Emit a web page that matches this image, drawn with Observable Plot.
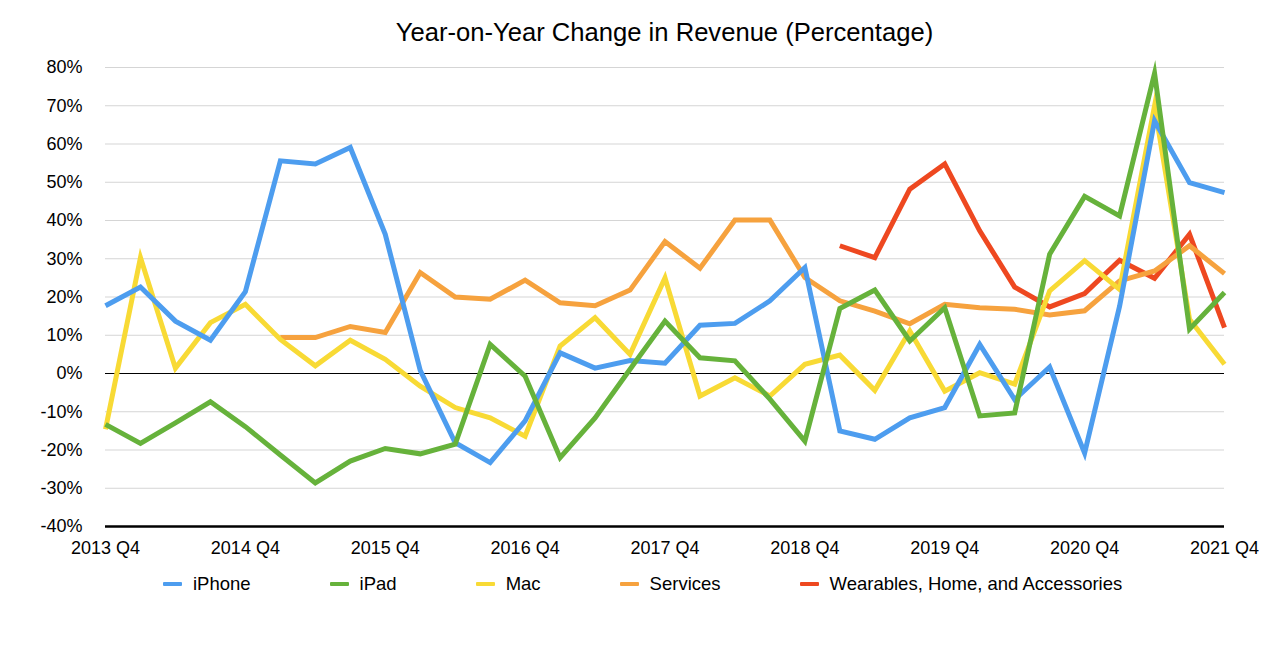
<!DOCTYPE html>
<html>
<head>
<meta charset="utf-8">
<script src="https://cdn.jsdelivr.net/npm/d3@7"></script>
<script src="https://cdn.jsdelivr.net/npm/@observablehq/plot@0.6"></script>
<style>
  html, body { margin: 0; padding: 0; background: #fff; }
  #wrap { position: relative; width: 1280px; height: 655px; font-family: "Liberation Sans", Arial, Helvetica, sans-serif; color: #000; }
  #title { position: absolute; left: 105px; width: 1119px; top: 18px; text-align: center; font-size: 25.6px; line-height: 28px; }
  #chart { position: absolute; left: 0; top: 50px; }
  #legend { position: absolute; left: 163px; top: 573px; display: flex; align-items: center; font-size: 18.5px; line-height: 22px; }
  .item { display: flex; align-items: center; margin-right: 79px; }
  .sw { width: 19px; height: 4px; margin-right: 11px; border-radius: 1px; }
</style>
</head>
<body>
<div id="wrap">
  <div id="title">Year-on-Year Change in Revenue (Percentage)</div>
  <div id="chart"></div>
  <div id="legend"></div>
</div>
<script>
const quarters = ["2013 Q4","2014 Q1","2014 Q2","2014 Q3","2014 Q4","2015 Q1","2015 Q2","2015 Q3","2015 Q4",
  "2016 Q1","2016 Q2","2016 Q3","2016 Q4","2017 Q1","2017 Q2","2017 Q3","2017 Q4",
  "2018 Q1","2018 Q2","2018 Q3","2018 Q4","2019 Q1","2019 Q2","2019 Q3","2019 Q4",
  "2020 Q1","2020 Q2","2020 Q3","2020 Q4","2021 Q1","2021 Q2","2021 Q3","2021 Q4"];
const xTicks = ["2013 Q4","2014 Q4","2015 Q4","2016 Q4","2017 Q4","2018 Q4","2019 Q4","2020 Q4","2021 Q4"];
const yTicks = [-40,-30,-20,-10,0,10,20,30,40,50,60,70,80];

const iPhone = [17.7,22.6,13.7,8.7,21.4,55.6,54.8,59.1,36.4,0.8,-18.1,-23.3,-12.4,5.4,1.4,3.4,2.7,12.6,13.1,19.0,27.7,-15.0,-17.2,-11.6,-8.9,7.6,-6.8,1.7,-20.8,17.6,66.1,49.9,47.3];
const iPad = [-13.3,-18.3,-12.9,-7.4,-13.9,-21.3,-28.6,-22.9,-19.6,-21.0,-18.5,7.6,-0.7,-22.0,-11.6,1.1,13.7,4.1,3.3,-6.7,-17.7,17.0,21.8,8.5,17.2,-11.1,-10.3,31.2,46.3,41.2,78.5,11.6,21.2];
const mac = [-14.6,30.3,1.4,13.3,18.1,8.9,2.0,8.7,3.7,-3.3,-8.9,-11.6,-16.4,7.2,14.6,5.0,25.0,-5.9,-1.1,-5.9,2.4,4.8,-4.4,11.1,-4.6,0.2,-2.8,21.6,29.5,22.0,70.0,14.2,2.4];
const services = [null,null,null,null,null,9.4,9.4,12.3,10.7,26.4,20.0,19.4,24.4,18.5,17.7,21.8,34.5,27.5,40.1,40.1,25.1,19.0,16.3,13.0,18.1,17.2,16.8,15.3,16.4,24.2,26.8,33.4,26.1];
const wearables = [null,null,null,null,null,null,null,null,null,null,null,null,null,null,null,null,null,null,null,null,null,33.4,30.3,48.2,54.8,37.3,22.6,17.4,20.9,29.6,24.9,36.4,12.0];

const legendNames = ["iPhone","iPad","Mac","Services","Wearables, Home, and Accessories"];
const legendColors = ["#4d9def","#66b23b","#f8da35","#f6a23e","#ee4820"];

// drawing order (bottom to top)
const drawOrder = [
  ["Wearables, Home, and Accessories", wearables],
  ["Services", services],
  ["Mac", mac],
  ["iPhone", iPhone],
  ["iPad", iPad]
];
const rows = drawOrder.flatMap(([name, vals]) => quarters.map((q, i) => ({q, name, v: vals[i]})));

const font = "'Liberation Sans', Arial, Helvetica, sans-serif";
const chart = Plot.plot({
  width: 1280,
  height: 520,
  marginLeft: 105,
  marginRight: 56,
  marginTop: 17,
  marginBottom: 44,
  style: {fontFamily: font, fontSize: "18px", color: "#000", background: "transparent", overflow: "visible"},
  x: {type: "point", domain: quarters, padding: 0},
  y: {domain: [-40, 80]},
  color: {domain: legendNames, range: legendColors},
  marks: [
    Plot.ruleY(yTicks.filter(d => d !== 0 && d !== -40), {stroke: "#d5d5d5", strokeWidth: 1}),
    Plot.ruleY([0], {stroke: "#000", strokeWidth: 1.2}),
    Plot.line(rows, {x: "q", y: "v", z: "name", stroke: "name", strokeWidth: 5, strokeLinejoin: "miter", strokeLinecap: "butt", strokeMiterlimit: 10}),
    Plot.ruleY([-40], {stroke: "#000", strokeWidth: 2.6}),
    Plot.axisY({ticks: yTicks, tickSize: 0, tickPadding: 23, tickFormat: d => d + "%", label: null, fontSize: 18}),
    Plot.axisX({ticks: xTicks, tickSize: 0, tickPadding: 15, label: null, fontSize: 18})
  ]
});
document.getElementById("chart").appendChild(chart);

const legend = document.getElementById("legend");
legendNames.forEach((n, i) => {
  const item = document.createElement("div");
  item.className = "item";
  const sw = document.createElement("div");
  sw.className = "sw";
  sw.style.background = legendColors[i];
  const t = document.createElement("span");
  t.textContent = n;
  item.appendChild(sw);
  item.appendChild(t);
  legend.appendChild(item);
});
</script>
</body>
</html>
